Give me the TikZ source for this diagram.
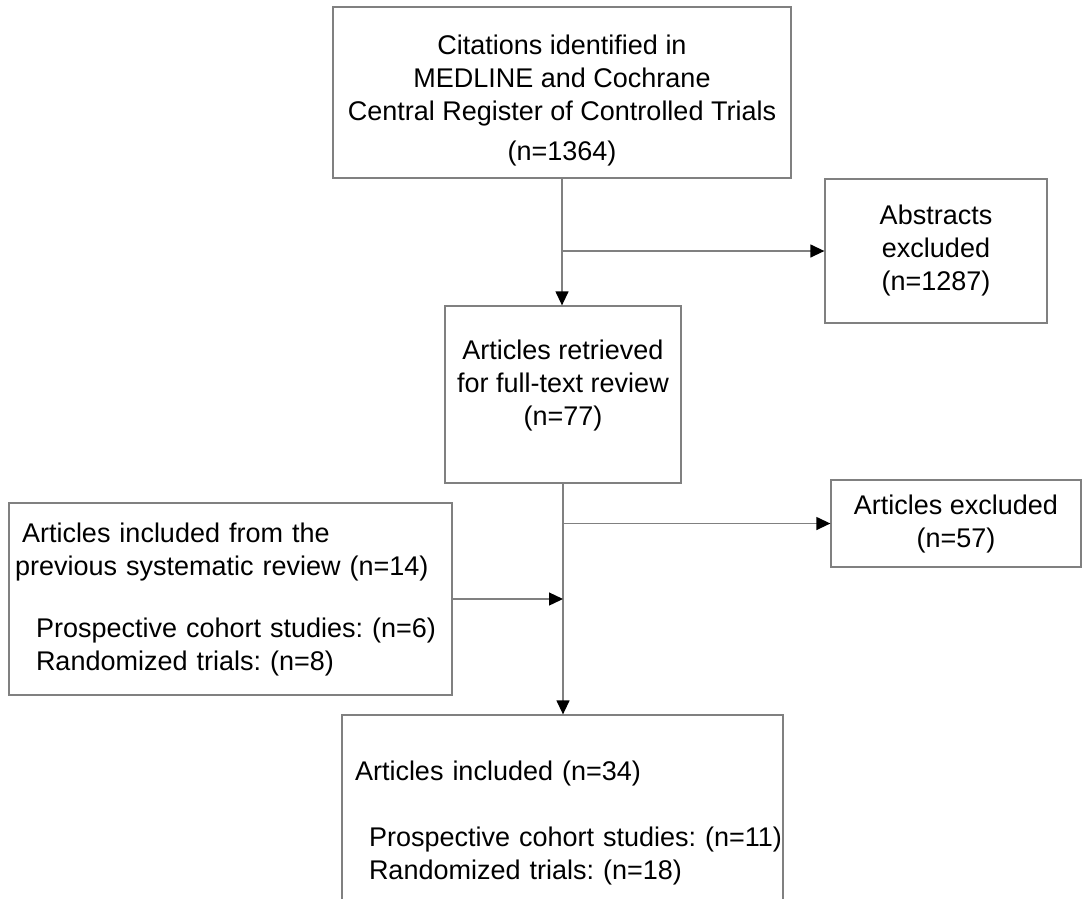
\documentclass[tikz,border=0pt]{standalone}
\usepackage{fontspec}
\setmainfont{Liberation Sans}
\usetikzlibrary{arrows.meta}
\frenchspacing
\definecolor{linegray}{RGB}{128,128,128}
\tikzset{
  box/.style={draw=linegray, line width=1.3pt, rectangle, inner sep=0pt, align=center,
    font=\fontsize{27}{33}\selectfont},
  leftbox/.style={box, align=left, inner xsep=2pt},
  flow/.style={draw=linegray, line width=1.3pt, -{Triangle[length=14pt,width=13pt,color=black]}}
}
\begin{document}
\begin{tikzpicture}[x=1pt,y=-1pt]
  \useasboundingbox (0,0) rectangle (1083,898);
  \clip (0,0) rectangle (1083,898);
  % boxes
  \node[box, minimum width=458pt, minimum height=171pt] (cit) at (562,92.5)
    {\rule{0pt}{36pt}Citations identified in\\ MEDLINE and Cochrane\\ Central Register of Controlled Trials\\[7pt] (n=1364)};
  \node[box, minimum width=222pt, minimum height=144pt] (abs) at (936,251)
    {Abstracts\\ excluded\\ (n=1287)};
  \node[box, minimum width=236pt, minimum height=177pt] (ret) at (563,394.5)
    {Articles retrieved\\ for full-text review\\ (n=77)\rule[-24pt]{0pt}{0pt}};
  \node[box, minimum width=250pt, minimum height=87pt] (exc) at (956,523.5)
    {Articles excluded\\ (n=57)};
  \node[leftbox, text width=439pt, minimum height=192pt] (prev) at (230.5,599)
    {\hspace*{11pt}Articles included from the\\ \hspace*{4pt}previous systematic review (n=14)\\[29pt]
     \hspace*{25pt}\mbox{Prospective cohort studies: (n=6)}\\ \hspace*{25pt}Randomized trials: (n=8)};
  \node[leftbox, text width=437pt, minimum height=216pt] (inc) at (562.5,823)
    {\hspace*{11pt}Articles included (n=34)\\[33pt]
     \hspace*{25pt}\mbox{Prospective cohort studies: (n=11)}\\ \hspace*{25pt}Randomized trials: (n=18)};
  % connectors
  \coordinate (b1) at (cit.south |- abs.west);
  \coordinate (b2) at (ret.south |- exc.west);
  \path[draw=linegray, line width=1.3pt] (cit.south) -- (b1) (ret.south) -- (b2);
  \path
    (b1) edge[flow] (cit.south |- ret.north)
    (b1) edge[flow] (abs.west)
    (b2) edge[flow] (ret.south |- inc.north)
    (b2) edge[flow] (exc.west)
    (prev.east) edge[flow] (prev.east -| ret.south);
\end{tikzpicture}
\end{document}
